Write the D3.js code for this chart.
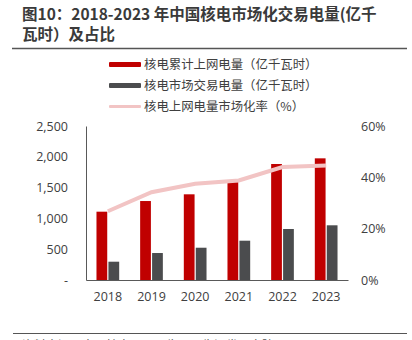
<!DOCTYPE html>
<html>
<head>
<meta charset="utf-8">
<script src="https://cdn.jsdelivr.net/npm/d3@7"></script>
<style>
  body { margin: 0; background: #fff; }
  svg text { font-family: "Noto Sans CJK SC", "Noto Sans", sans-serif; }
</style>
</head>
<body>
<script>
// data
var years = ["2018", "2019", "2020", "2021", "2022", "2023"];
var gridPower = [1109, 1282, 1391, 1612, 1883, 1975];   // 核电累计上网电量
var marketPower = [297, 438, 524, 638, 828, 888];      // 核电市场交易电量
var marketRate = [26.8, 34.2, 37.5, 38.8, 44.0, 44.6]; // 市场化率 %
var leftTicks = [0, 500, 1000, 1500, 2000, 2500];
var rightTicks = [0, 20, 40, 60];

var W = 412, H = 340;
var m = { top: 126, right: 64, bottom: 60, left: 86 },
    w = W - m.left - m.right,
    h = H - m.top - m.bottom;

var svg = d3.select("body").append("svg")
    .attr("width", W)
    .attr("height", H);

// title
var title = svg.append("text")
    .attr("x", 22)
    .attr("fill", "#3a3a3a")
    .attr("font-size", 15.5)
    .attr("font-weight", "bold");
title.append("tspan").attr("x", 22).attr("y", 20).text("图10：2018-2023 年中国核电市场化交易电量(亿千");
title.append("tspan").attr("x", 22).attr("y", 40).text("瓦时）及占比");

svg.append("line")
    .attr("x1", 12).attr("x2", 407)
    .attr("y1", 48.5).attr("y2", 48.5)
    .attr("stroke", "#555").attr("stroke-width", 1.5);

// scales
var x0 = d3.scaleBand().domain(years).range([0, w]);
var x1 = d3.scaleBand().domain(["grid", "market"])
    .range([x0.bandwidth() * 0.24, x0.bandwidth() * 0.76])
    .paddingInner(0.1);
var yL = d3.scaleLinear().domain([0, 2500]).range([h, 0]);
var yR = d3.scaleLinear().domain([0, 60]).range([h, 0]);

var g = svg.append("g")
    .attr("transform", "translate(" + m.left + "," + m.top + ")");

// bars
var groups = g.append("g").selectAll("g")
    .data(years)
    .enter().append("g")
    .attr("transform", function (d) { return "translate(" + x0(d) + ",0)"; });

groups.append("rect")
    .attr("x", x1("grid"))
    .attr("y", function (d, i) { return yL(gridPower[i]); })
    .attr("width", x1.bandwidth())
    .attr("height", function (d, i) { return h - yL(gridPower[i]); })
    .attr("fill", "#c00000");

groups.append("rect")
    .attr("x", x1("market"))
    .attr("y", function (d, i) { return yL(marketPower[i]); })
    .attr("width", x1.bandwidth())
    .attr("height", function (d, i) { return h - yL(marketPower[i]); })
    .attr("fill", "#4b4c4e");

// ratio line
var line = d3.line()
    .x(function (d, i) { return x0(years[i]) + x0.bandwidth() / 2; })
    .y(function (d) { return yR(d); });

g.append("path")
    .datum(marketRate)
    .attr("d", line)
    .attr("fill", "none")
    .attr("stroke", "#f2c4c4")
    .attr("stroke-width", 4);

// axes
var tickColor = "#404040";
var axisL = g.append("g")
    .call(d3.axisLeft(yL).tickValues(leftTicks).tickSize(0).tickPadding(18)
        .tickFormat(function (d) { return d === 0 ? "-" : d3.format(",")(d); }));
axisL.select(".domain").attr("stroke", "#595959");
axisL.selectAll("text").attr("fill", tickColor).attr("font-size", 12.5)
    .style("font-family", "'Open Sans', 'Noto Sans', sans-serif");

var axisR = g.append("g")
    .attr("transform", "translate(" + w + ",0)")
    .call(d3.axisRight(yR).tickValues(rightTicks).tickSize(0).tickPadding(13)
        .tickFormat(function (d) { return d + "%"; }));
axisR.select(".domain").remove();
axisR.selectAll("text").attr("fill", tickColor).attr("font-size", 12.5)
    .style("font-family", "'Open Sans', 'Noto Sans', sans-serif");

var axisB = g.append("g")
    .attr("transform", "translate(0," + h + ")")
    .call(d3.axisBottom(x0).tickSize(0).tickPadding(12));
axisB.select(".domain").attr("stroke", "#595959");
axisB.selectAll("text").attr("fill", tickColor).attr("font-size", 12.5)
    .style("font-family", "'Open Sans', 'Noto Sans', sans-serif");

// legend
var legendItems = [
    { label: "核电累计上网电量（亿千瓦时）", color: "#c00000", size: 5 },
    { label: "核电市场交易电量（亿千瓦时）", color: "#4b4c4e", size: 5 },
    { label: "核电上网电量市场化率（%）", color: "#f2c4c4", size: 3 }
];
var legend = svg.append("g").selectAll("g")
    .data(legendItems)
    .enter().append("g")
    .attr("transform", function (d, i) { return "translate(109," + (64.5 + i * 21) + ")"; });
legend.append("rect")
    .attr("x", 0).attr("y", function (d) { return -d.size / 2; })
    .attr("width", 32).attr("height", function (d) { return d.size; })
    .attr("rx", 1)
    .attr("fill", function (d) { return d.color; });
legend.append("text")
    .attr("x", 35).attr("dy", "0.35em")
    .attr("font-size", 12.4)
    .attr("fill", tickColor)
    .text(function (d) { return d.label; });

// footer
svg.append("line")
    .attr("x1", 13).attr("x2", 407)
    .attr("y1", 333.5).attr("y2", 333.5)
    .attr("stroke", "#555").attr("stroke-width", 1.2);
svg.append("text")
    .attr("x", 22).attr("y", 350)
    .attr("font-size", 12)
    .attr("fill", "#555")
    .text("资料来源：中国核电公司公告，民生证券研究院");
</script>
</body>
</html>
